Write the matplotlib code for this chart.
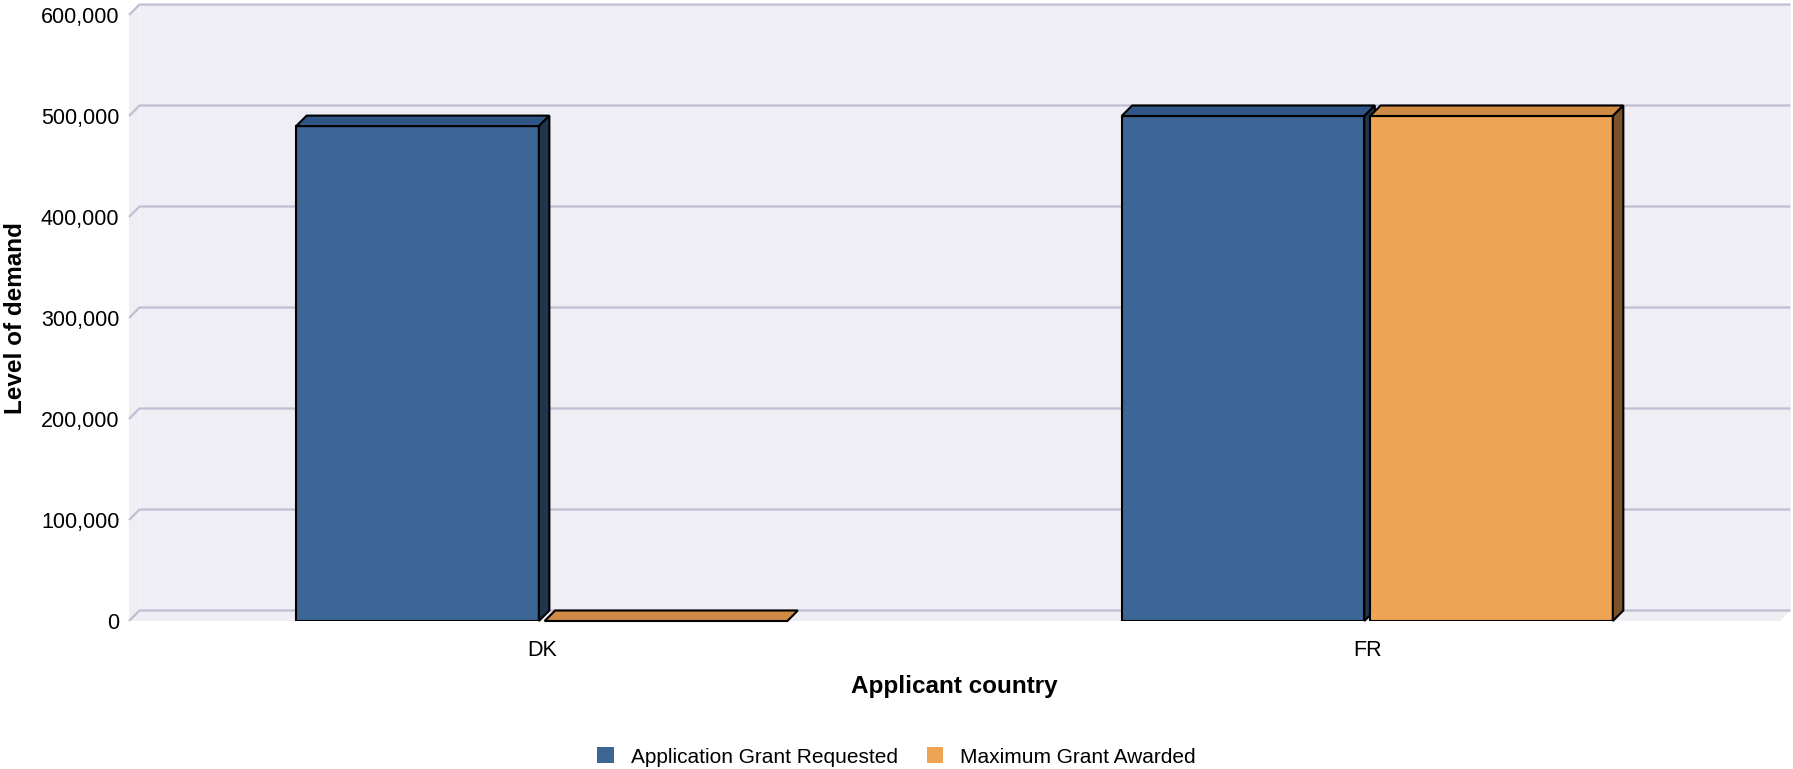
import numpy as np
import matplotlib
matplotlib.use("Agg")
import matplotlib.pyplot as plt
from matplotlib.patches import Polygon

plt.rcParams['font.family'] = ['Liberation Sans', 'DejaVu Sans']

# data
countries = ["DK", "FR"]
series_names = ["Application Grant Requested", "Maximum Grant Awarded"]
grant_requested = [490000, 500000]
grant_awarded = [0, 500000]
y_ticks = [0, 100000, 200000, 300000, 400000, 500000, 600000]

front_colors = ["#3B6696", "#EEA453"]
top_colors = ["#2F5686", "#CF8A45"]
side_colors = ["#22344E", "#7A5229"]
wall_color = "#EFEEF4"
grid_color = "#C0BED2"

W, H = 1793, 769
fig = plt.figure(figsize=(W / 100, H / 100), dpi=100)
ax = fig.add_axes([129 / W, 1 - 621 / H, (1780 - 129) / W, (621 - 15) / H])
ax.set_xlim(-0.5, 1.5)
ax.set_ylim(0, 600000)
ax.set_facecolor("none")
for s in ax.spines.values():
    s.set_visible(False)

# 3D depth offset in pixels, converted to data units
DEPTH_PX = 10.5
p0 = ax.transData.transform((0, 0))
ddx, ddy = ax.transData.inverted().transform(p0 + np.array([DEPTH_PX, DEPTH_PX]))
x0, x1 = -0.5, 1.5
ytop = 600000

# walls
walls = [
    [(x0 + ddx, ddy), (x1 + ddx, ddy), (x1 + ddx, ytop + ddy), (x0 + ddx, ytop + ddy)],
    [(x0, 0), (x0 + ddx, ddy), (x0 + ddx, ytop + ddy), (x0, ytop)],
    [(x0, 0), (x1, 0), (x1 + ddx, ddy), (x0 + ddx, ddy)],
]
for w in walls:
    ax.add_patch(Polygon(w, closed=True, fc=wall_color, ec="none", zorder=0, clip_on=False))
for v in y_ticks:
    ax.plot([x0, x0 + ddx, x1 + ddx], [v, v + ddy, v + ddy], color=grid_color,
            lw=1.6, zorder=1, solid_capstyle="butt", clip_on=False)

# bars
bar_w = 0.294
gap = 0.007
x = np.arange(len(countries))
offsets = [-(bar_w + gap) / 2, (bar_w + gap) / 2]
for ci in range(len(countries)):
    for si, vals in enumerate([grant_requested, grant_awarded]):
        xc = x[ci] + offsets[si]
        h = vals[ci]
        l, r = xc - bar_w / 2, xc + bar_w / 2
        ax.bar(xc, h, width=bar_w, color=front_colors[si], edgecolor="black",
               linewidth=1.5, zorder=3, label=series_names[si] if ci == 0 else None)
        ax.add_patch(Polygon([(l, h), (r, h), (r + ddx, h + ddy), (l + ddx, h + ddy)],
                             closed=True, fc=top_colors[si], ec="black", lw=1.5,
                             joinstyle="miter", zorder=3, clip_on=False))
        if h > 0:
            ax.add_patch(Polygon([(r, 0), (r + ddx, ddy), (r + ddx, h + ddy), (r, h)],
                                 closed=True, fc=side_colors[si], ec="black", lw=1.5,
                                 joinstyle="miter", zorder=3, clip_on=False))

ax.set_yticks(y_ticks)
ax.set_yticklabels([f"{v:,}" for v in y_ticks], fontsize=15.5)
ax.set_xticks(x)
ax.set_xticklabels(countries, fontsize=15.5)
ax.tick_params(axis="both", length=0)
ax.tick_params(axis="y", pad=7)
ax.tick_params(axis="x", pad=14)

ax.set_xlabel("Applicant country", fontsize=17.5, fontweight="bold")
ax.xaxis.set_label_coords(0.5, (621 - 686) / 606)
ax.xaxis.label.set_va("center")
ax.set_ylabel("Level of demand", fontsize=17.5, fontweight="bold")
ax.yaxis.set_label_coords((16 - 129) / 1651, 0.5)
ax.yaxis.label.set_va("center")

handles, labels = ax.get_legend_handles_labels()
fig.legend(handles, labels, loc="center", bbox_to_anchor=(0.5, 1 - 757 / H), ncol=2,
           frameon=False, fontsize=15, handlelength=0.8, handleheight=0.8,
           columnspacing=1.4, handletextpad=0.8)
for hdl in fig.legends[0].legend_handles:
    hdl.set_edgecolor("none")

fig.savefig("out.png", dpi=100)
